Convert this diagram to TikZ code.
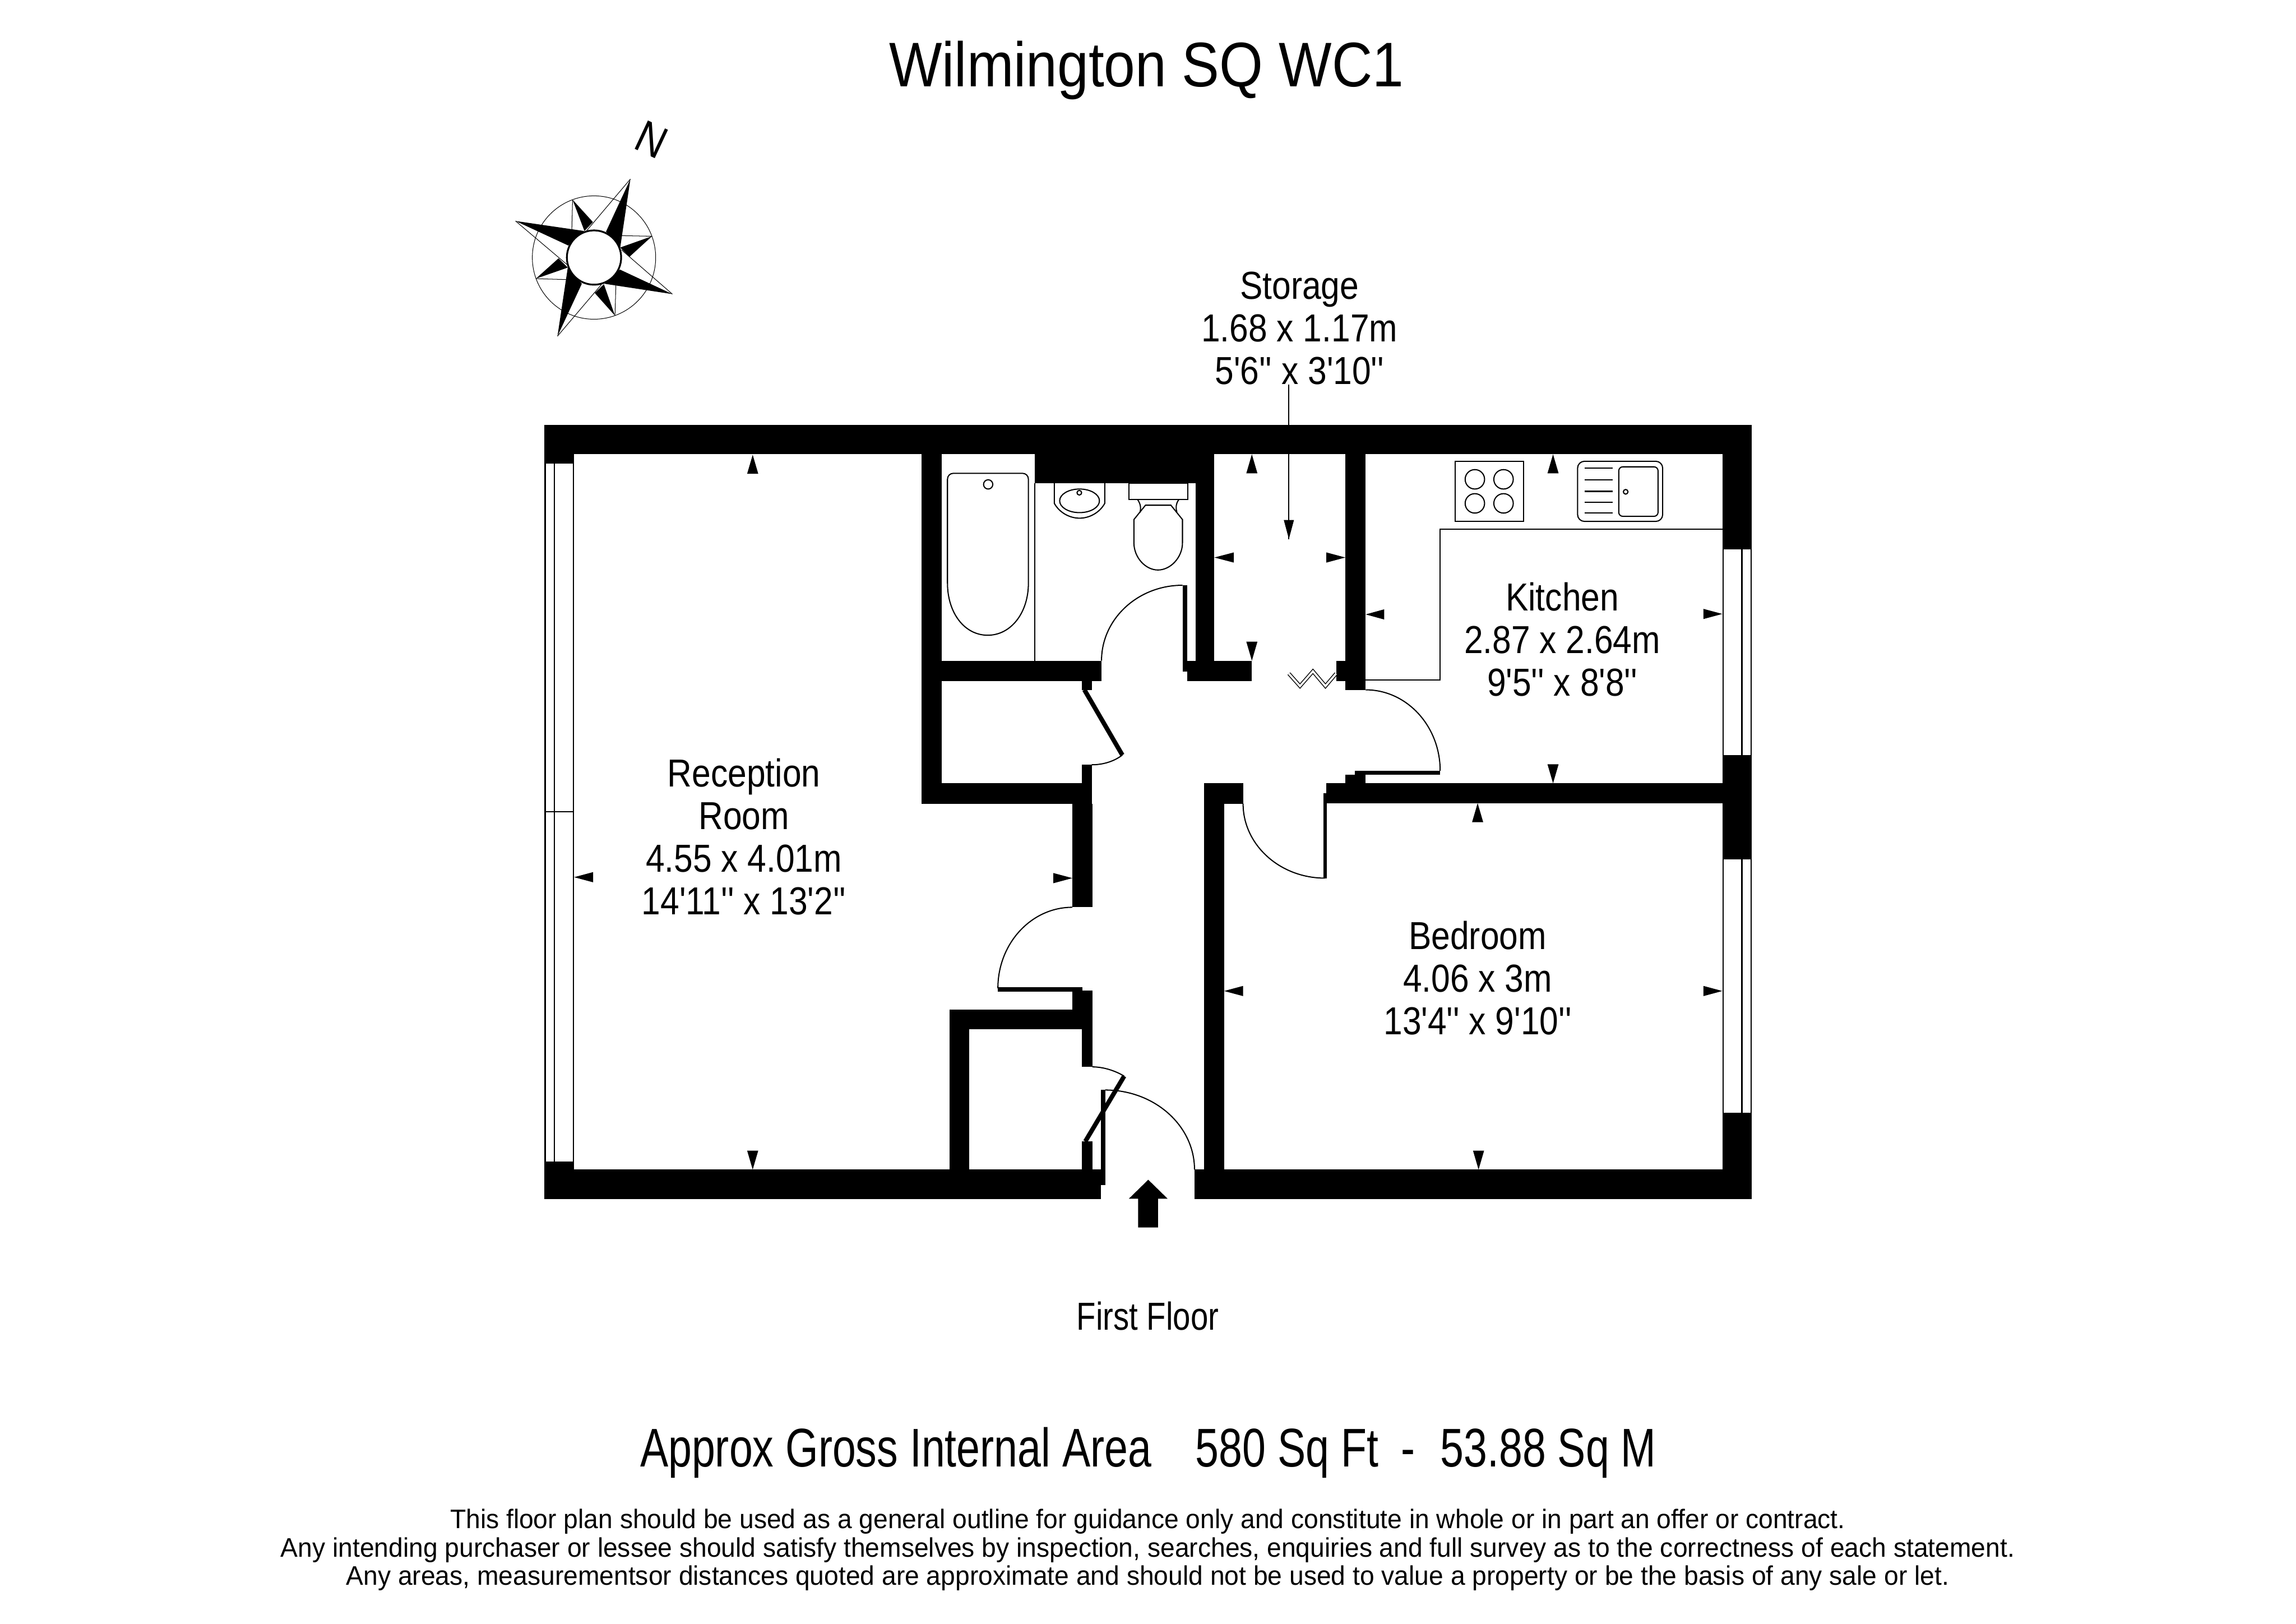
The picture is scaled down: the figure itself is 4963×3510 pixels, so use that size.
\documentclass[tikz,border=0pt]{standalone}
\usepackage{fontspec}
\usetikzlibrary{calc}
\newfontfamily\labfont{Liberation Sans}[FakeStretch=0.87]
\newfontfamily\titlefont{Liberation Sans}[FakeStretch=0.891]
\newfontfamily\areafont{Liberation Sans}[FakeStretch=0.775]
\newfontfamily\notefont{Liberation Sans}[FakeStretch=0.966]
\newfontfamily\floorfont{Liberation Sans}[FakeStretch=0.81]
\newcommand\doorarc[3]{\draw[swing] #1 .. controls ($#1!.552!#2$) and ($#3!.552!#2$) .. #3;}
\tikzset{
  wall/.style={fill=black,draw=none},
  swing/.style={draw=black,line width=1.4pt},
  fine/.style={draw=black,line width=1.4pt},
  hair/.style={draw=black,line width=1.3pt},
  starline/.style={draw=black,line width=0.7pt},
  glass/.style={draw=black,line width=1.7pt},
  dim/.style={fill=black,draw=none},
  leaf/.style={draw=black,line width=5.5pt},
  roomlabel/.style={align=center,inner sep=0pt,font=\labfont\fontsize{48}{52.4}\selectfont},
  notelabel/.style={inner sep=0pt,anchor=base,font=\notefont\fontsize{33}{35}\selectfont},
}
\begin{document}
\begin{tikzpicture}[x=0.02cm,y=-0.02cm]
\useasboundingbox (0,0) rectangle (4963,3510);
\fill[white] (0,0) rectangle (4963,3510);

% outer walls
\fill[wall] (1177,919) rectangle (3787,982);
\fill[wall] (1177,919) rectangle (1241,1002);
\fill[wall] (1177,2510) rectangle (1241,2592);
\fill[wall] (1177,2528) rectangle (2380,2592);
\fill[wall] (2582,2528) rectangle (3787,2592);
\fill[wall] (3723,919) rectangle (3787,1187);
\fill[wall] (3723,1632) rectangle (3787,1857);
\fill[wall] (3723,2405) rectangle (3787,2592);

% windows
\draw[glass] (1178.5,1002) -- (1178.5,2510) (1198.5,1002) -- (1198.5,2510) (1239.5,1002) -- (1239.5,2510);
\draw[hair] (1178,1755) -- (1240,1755);
\draw[glass] (3724.5,1187) -- (3724.5,1632) (3765.5,1187) -- (3765.5,1632) (3785.5,1187) -- (3785.5,1632);
\draw[glass] (3724.5,1857) -- (3724.5,2405) (3765.5,1857) -- (3765.5,2405) (3785.5,1857) -- (3785.5,2405);

% bathroom walls
\fill[wall] (1992,982) rectangle (2035,1736);
\fill[wall] (2237,982) rectangle (2625,1044);
\fill[wall] (2584,982) rectangle (2625,1472);
\fill[wall] (1992,1428) rectangle (2381,1472);
\fill[wall] (2566,1428) rectangle (2706,1472);
\fill[wall] (2908,982) rectangle (2952,1491);
\fill[wall] (2888,1428) rectangle (2908,1472);
% closet below bathroom
\fill[wall] (2338,1472) rectangle (2360,1491);
\fill[wall] (2338,1653) rectangle (2360,1693);
\fill[wall] (1992,1693) rectangle (2360,1737);
\fill[wall] (2318,1737) rectangle (2361,1961);
% hall closet
\fill[wall] (2318,2141) rectangle (2361,2182);
\fill[wall] (2053,2182) rectangle (2361,2225);
\fill[wall] (2053,2182) rectangle (2095,2528);
\fill[wall] (2339,2225) rectangle (2361,2306);
\fill[wall] (2339,2467) rectangle (2361,2528);
% bedroom walls
\fill[wall] (2603,1693) rectangle (2646,2528);
\fill[wall] (2603,1693) rectangle (2687,1737);
\fill[wall] (2867,1693) rectangle (3723,1736);
\fill[wall] (2908,1675) rectangle (2952,1693);

% door leaves
\fill[wall] (2556,1265) rectangle (2566,1451);
\fill[wall] (2929,1666) rectangle (3113,1675);
\fill[wall] (2861,1714) rectangle (2868,1899);
\fill[wall] (2157,2134) rectangle (2340,2144);
\fill[wall] (2380,2355) rectangle (2389,2561);
\draw[leaf] (2344,1491) -- (2426,1632);
\draw[leaf] (2430,2326) -- (2346,2467);

% door swings
\doorarc{(2556,1265)}{(2381,1265)}{(2381,1428)}
\doorarc{(2952,1491)}{(3113,1491)}{(3113,1666)}
\doorarc{(2687,1737)}{(2687,1898)}{(2864,1898)}
\doorarc{(2318,1961)}{(2157,1961)}{(2157,2136)}
\doorarc{(2389,2356)}{(2582,2356)}{(2582,2528)}
\draw[swing] (2426,1632) .. controls (2405,1648) and (2380,1653) .. (2360,1653);
\draw[swing] (2361,2306) .. controls (2385,2306) and (2410,2314) .. (2430,2326);

% zigzag
\draw[draw=black,double=white,double distance=2.5pt,line width=1pt] (2786,1456) -- (2810,1483) -- (2838,1451) -- (2865,1483) -- (2888,1456);

% kitchen worktop
\draw[fine] (2952,1470) -- (3113,1470) -- (3113,1144) -- (3723,1144);
% hob
\draw[fine] (3146,997) rectangle (3293,1127);
\foreach \hx/\hy in {3188/1036,3250/1036,3188/1088,3250/1088}
  \draw[fine] (\hx,\hy) circle [radius=21];
% sink
\draw[fine,rounded corners=8.5pt] (3410,997) rectangle (3594,1127);
\draw[fine,rounded corners=5pt] (3499,1009) rectangle (3584,1116);
\foreach \sy in {1012,1037,1062,1086,1109}
  \draw[fine] (3425,\sy) -- (3486,\sy);
\draw[fine] (3514,1063) circle [radius=5];

% bath
\draw[fine] (2237,1044) -- (2237,1428);
\draw[fine] (2048,1036) .. controls (2048,1028) and (2054,1023) .. (2061,1023) -- (2210,1023) .. controls (2217,1023) and (2223,1028) .. (2223,1036) -- (2223,1260) .. controls (2223,1325) and (2185,1373) .. (2135,1373) .. controls (2085,1373) and (2048,1325) .. (2048,1260) -- cycle;
\draw[fine] (2136,1047) circle [radius=10];
% basin
\draw[fine] (2279,1044) -- (2279,1088) .. controls (2290,1108) and (2312,1120) .. (2333.5,1120) .. controls (2355,1120) and (2377,1108) .. (2388,1088) -- (2388,1044);
\draw[fine] (2333.5,1082.5) ellipse [x radius=43,y radius=25.5];
\draw[fine] (2333,1065) circle [radius=5];
% toilet
\draw[fine] (2440,1044) rectangle (2567,1079);
\draw[fine] (2459,1080) .. controls (2465,1088) and (2467,1098) .. (2464,1108);
\draw[fine] (2548,1080) .. controls (2542,1088) and (2541,1098) .. (2544,1107);
\draw[fine] (2476,1092) -- (2531,1092) -- (2556,1123) -- (2556,1173) .. controls (2556,1205) and (2530,1232) .. (2503,1232) .. controls (2476,1232) and (2451,1205) .. (2451,1173) -- (2451,1123) -- cycle;

% dimension arrows
\fill[dim] (1627,983) -- (1615,1024) -- (1639,1024) -- cycle;
\fill[dim] (1627,2528) -- (1615,2487) -- (1639,2487) -- cycle;
\fill[dim] (1241,1896) -- (1282,1885) -- (1282,1907) -- cycle;
\fill[dim] (2318,1898) -- (2277,1887) -- (2277,1909) -- cycle;
\fill[dim] (2706,982) -- (2694,1023) -- (2718,1023) -- cycle;
\fill[dim] (2706,1428) -- (2694,1387) -- (2718,1387) -- cycle;
\fill[dim] (2625,1205) -- (2667,1194) -- (2667,1216) -- cycle;
\fill[dim] (2908,1205) -- (2867,1194) -- (2867,1216) -- cycle;
\fill[dim] (3357,982) -- (3345,1023) -- (3369,1023) -- cycle;
\fill[dim] (3357,1693) -- (3345,1652) -- (3369,1652) -- cycle;
\fill[dim] (2952,1328) -- (2992,1317) -- (2992,1339) -- cycle;
\fill[dim] (3723,1327) -- (3682,1316) -- (3682,1338) -- cycle;
\fill[dim] (3194,1736) -- (3182,1777) -- (3206,1777) -- cycle;
\fill[dim] (3196,2528) -- (3184,2487) -- (3208,2487) -- cycle;
\fill[dim] (2646,2142) -- (2687,2131) -- (2687,2153) -- cycle;
\fill[dim] (3723,2142) -- (3682,2131) -- (3682,2153) -- cycle;

% entrance arrow
\fill[wall] (2482,2550) -- (2524,2591) -- (2503,2591) -- (2503,2653) -- (2460,2653) -- (2460,2591) -- (2440,2591) -- cycle;

% compass
\begin{scope}[shift={(1080,250)},x=0.00667cm,y=-0.00667cm]
\draw[starline] (612,920) circle [radius=400];
\fill[black] (848,411) -- (690,752) -- (782,855) -- cycle;
\fill[black] (1120,1157) -- (780,998) -- (680,1090) -- cycle;
\fill[black] (375,1430) -- (533,1090) -- (442,985) -- cycle;
\fill[black] (103,683) -- (445,842) -- (548,748) -- cycle;
\fill[black] (473,545) -- (605,690) -- (550,748) -- cycle;
\fill[black] (988,782) -- (782,855) -- (842,915) -- cycle;
\fill[black] (748,1297) -- (617,1150) -- (676,1093) -- cycle;
\fill[black] (235,1057) -- (382,925) -- (442,985) -- cycle;
\draw[starline] (848,411) -- (565,745);
\draw[starline] (1120,1157) -- (790,870);
\draw[starline] (375,1430) -- (660,1095);
\draw[starline] (103,683) -- (440,968);
\draw[starline] (473,545) -- (468,745);
\draw[starline] (988,782) -- (790,778);
\draw[starline] (748,1297) -- (754,1097);
\draw[starline] (235,1057) -- (435,1063);
\fill[white] (612,920) circle [radius=176];
\draw[black,line width=2.2pt] (612,920) circle [radius=176];
\end{scope}
\node[inner sep=0pt,rotate=-25,font=\labfont\fontsize{56}{60}\selectfont] (north) at (1409,302) {N};

% labels
\node[inner sep=0pt,anchor=base,font=\titlefont\fontsize{77.5}{85}\selectfont] (title) at (2478,187) {Wilmington SQ WC1};
\node[roomlabel] (storagelabel) at (2809,709) {Storage\\1.68 x 1.17m\\5'6'' x 3'10''};
\coordinate (storagetip) at (2786,1165);
\draw[hair] (storagetip |- storagelabel.south) -- (storagetip);
\fill[dim] (storagetip) -- (2775,1124) -- (2797,1124) -- cycle;
\node[roomlabel] (kitchenlabel) at (3377,1382) {Kitchen\\2.87 x 2.64m\\9'5'' x 8'8''};
\node[roomlabel] (receptionlabel) at (1608,1809) {Reception\\Room\\4.55 x 4.01m\\14'11'' x 13'2''};
\node[roomlabel] (bedroomlabel) at (3194,2114) {Bedroom\\4.06 x 3m\\13'4'' x 9'10''};
\node[inner sep=0pt,font=\floorfont\fontsize{48}{52}\selectfont] (floorlabel) at (2481,2845) {First Floor};
\node[inner sep=0pt,anchor=base,font=\areafont\fontsize{67}{74}\selectfont] (arealabel) at (2482,3170) {Approx Gross Internal Area\hspace{54pt}580 Sq Ft\hspace{28pt}-\hspace{31pt}53.88 Sq M};
\node[notelabel] (noteone) at (2481,3304) {This floor plan should be used as a general outline for guidance only and constitute in whole or in part an offer or contract.};
\node[notelabel] (notetwo) at (2481,3365) {Any intending purchaser or lessee should satisfy themselves by inspection, searches, enquiries and full survey as to the correctness of each statement.};
\node[notelabel] (notethree) at (2481,3426) {Any areas, measurementsor distances quoted are approximate and should not be used to value a property or be the basis of any sale or let.};
\end{tikzpicture}
\end{document}
